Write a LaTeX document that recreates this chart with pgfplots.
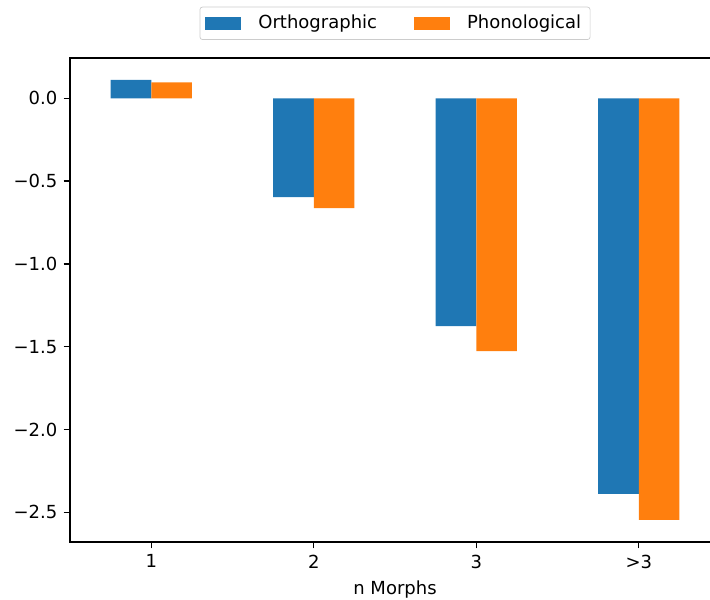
\documentclass[border=0pt]{standalone}
\usepackage{pgfplots}
\pgfplotsset{compat=1.18}
\usepackage{fontspec}
\setmainfont{DejaVu Sans}
\definecolor{tabblue}{HTML}{1F77B4}
\definecolor{taborange}{HTML}{FF7F0E}
\begin{document}
\begin{tikzpicture}
\begin{axis}[
  scale only axis, width=361.1pt, height=268.9pt,
  xmin=-0.5, xmax=3.5, ymin=-2.679, ymax=0.244,
  ybar,
  bar width=0.25,
  axis line style={line width=0.8pt, black},
  tick align=outside, tick pos=left,
  major tick length=3.5pt,
  tick style={black, line width=0.8pt},
  xtick={0,1,2,3}, xticklabels={1,2,3,>3},
  ytick={-2.5,-2,-1.5,-1,-0.5,0},
  yticklabels={−2.5,−2.0,−1.5,−1.0,−0.5,0.0},
  /pgf/number format/assume math mode=true,
  xlabel={n Morphs},
  legend columns=2,
  legend style={at={(0.5,1)}, anchor=south, yshift=10pt, draw=black!20, rounded corners=1.5pt,
    inner xsep=3pt, inner ysep=2.5pt,
    /tikz/every odd column/.append style={column sep=7.5pt},
    /tikz/every even column/.append style={column sep=18.5pt}},
]
\addplot[fill=tabblue, draw=none, bar shift=-0.125,
  legend image code/.code={\fill[tabblue, sharp corners] (0pt,-3.5pt) rectangle (20pt,3.5pt);}]
  coordinates {(0,0.111) (1,-0.596) (2,-1.375) (3,-2.389)};
\addplot[fill=taborange, draw=none, bar shift=0.125,
  legend image code/.code={\fill[taborange, sharp corners] (0pt,-3.5pt) rectangle (20pt,3.5pt);}]
  coordinates {(0,0.096) (1,-0.663) (2,-1.526) (3,-2.546)};
\legend{Orthographic, Phonological}
\coordinate (bl) at (rel axis cs:0,0);
\coordinate (tr) at (rel axis cs:1,1);
\end{axis}
\pgfresetboundingbox
\useasboundingbox ([shift={(-38.9pt,-31.7pt)}]bl) rectangle ([shift={(-5.56pt,32.2pt)}]tr);
\end{tikzpicture}
\end{document}
